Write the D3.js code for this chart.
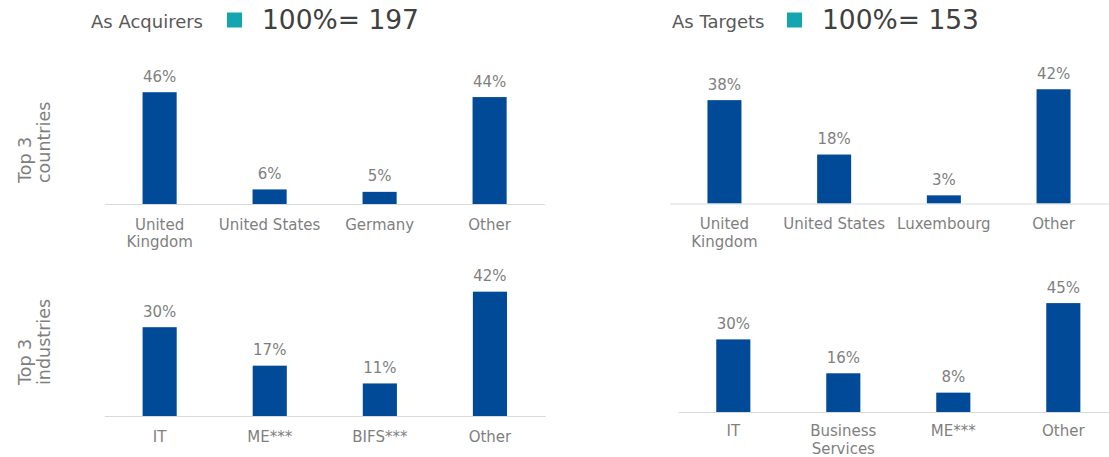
<!DOCTYPE html>
<html>
<head>
<meta charset="utf-8">
<script src="https://d3js.org/d3.v7.min.js"></script>
<style>
  body { margin: 0; background: #fff; }
  text { font-family: "DejaVu Sans", Verdana, sans-serif; }
  .label { fill: #7f7f7f; font-size: 15px; }
  .title { fill: #7f7f7f; font-size: 17.5px; }
  .head { fill: #595959; font-size: 18px; }
  .total { fill: #404040; font-size: 26.5px; }
</style>
</head>
<body>
<div id="chart-area"></div>
<script>
// values in percent
var acqCountries = ["United Kingdom", "United States", "Germany", "Other"];
var acqCountryValues = [46, 6, 5, 44];
var tgtCountries = ["United Kingdom", "United States", "Luxembourg", "Other"];
var tgtCountryValues = [38, 18, 3, 42];
var acqIndustries = ["IT", "ME***", "BIFS***", "Other"];
var acqIndustryValues = [30, 17, 11, 42];
var tgtIndustries = ["IT", "Business Services", "ME***", "Other"];
var tgtIndustryValues = [30, 16, 8, 45];

var headers = ["As Acquirers", "As Targets"];
var totals = [197, 153];
var rowTitles = [["Top 3", "countries"], ["Top 3", "industries"]];

var svg = d3.select("#chart-area").append("svg")
    .attr("width", 1109)
    .attr("height", 457);

// one entry per small chart: where it sits on the page
var panels = [
    { cats: acqCountries, vals: acqCountryValues, x0: 104.6, x1: 544.6, base: 204, top: 82.5, ly: 25.5 },
    { cats: tgtCountries, vals: tgtCountryValues, x0: 669.6, x1: 1108.4, base: 203.5, top: 67.5, ly: 25.5 },
    { cats: acqIndustries, vals: acqIndustryValues, x0: 104.6, x1: 545, base: 416, top: 268, ly: 25.5 },
    { cats: tgtIndustries, vals: tgtIndustryValues, x0: 678.3, x1: 1118.3, base: 412, top: 291, ly: 24 }
];

function wrap(sel, width) {
    sel.each(function () {
        var t = d3.select(this);
        var words = t.text().split(" ");
        var lines = [];
        var line = [];
        t.text(null);
        var probe = t.append("tspan");
        words.forEach(function (w) {
            line.push(w);
            probe.text(line.join(" "));
            if (probe.node().getComputedTextLength() > width && line.length > 1) {
                line.pop();
                lines.push(line.join(" "));
                line = [w];
            }
        });
        lines.push(line.join(" "));
        probe.remove();
        lines.forEach(function (l, i) {
            t.append("tspan")
                .attr("x", 0)
                .attr("dy", i === 0 ? 0 : 17.5)
                .text(l);
        });
    });
}

panels.forEach(function (p) {
    var x = d3.scaleBand()
        .domain(p.cats)
        .range([p.x0, p.x1])
        .paddingInner(0.69)
        .paddingOuter(0.345);

    var y = d3.scaleLinear()
        .domain([0, 50])
        .range([p.base, p.top]);

    var data = p.cats.map(function (c, i) { return { cat: c, val: p.vals[i] }; });

    var g = svg.append("g");

    g.selectAll("rect")
        .data(data)
        .enter().append("rect")
        .attr("x", function (d) { return x(d.cat); })
        .attr("y", function (d) { return y(d.val); })
        .attr("width", x.bandwidth())
        .attr("height", function (d) { return y(0) - y(d.val); })
        .attr("fill", "#004a98");

    g.selectAll(".val")
        .data(data)
        .enter().append("text")
        .attr("class", "label val")
        .attr("x", function (d) { return x(d.cat) + x.bandwidth() / 2; })
        .attr("y", function (d) { return y(d.val) - 10.5; })
        .attr("text-anchor", "middle")
        .text(function (d) { return d.val + "%"; });

    var axis = g.append("g")
        .attr("transform", "translate(0," + p.base + ")")
        .call(d3.axisBottom(x).tickSize(0).tickPadding(0));

    axis.select(".domain")
        .attr("stroke", "#d9d9d9")
        .attr("stroke-width", 1.2);

    axis.selectAll("text")
        .attr("class", "label")
        .attr("fill", null)
        .attr("y", p.ly)
        .attr("dy", null)
        .call(wrap, x.step());
    axis.attr("font-family", null).attr("font-size", null);
});

// headers
var headX = [{ head: 91, box: 227, total: 262 }, { head: 672, box: 787, total: 822 }];
headers.forEach(function (h, i) {
    svg.append("text")
        .attr("class", "head")
        .attr("x", headX[i].head)
        .attr("y", 28)
        .text(h);
    svg.append("rect")
        .attr("x", headX[i].box)
        .attr("y", 12.5)
        .attr("width", 15)
        .attr("height", 15)
        .attr("fill", "#13a5b0");
    svg.append("text")
        .attr("class", "total")
        .attr("x", headX[i].total)
        .attr("y", 29)
        .text("100%= " + totals[i]);
});

// row titles, rotated
var rowStart = [183, 385];
rowTitles.forEach(function (lines, i) {
    var t = svg.append("text")
        .attr("class", "title")
        .attr("transform", "translate(31," + rowStart[i] + ") rotate(-90)");
    lines.forEach(function (l, j) {
        t.append("tspan")
            .attr("x", 0)
            .attr("dy", j === 0 ? 0 : 19)
            .text(l);
    });
});
</script>
</body>
</html>
